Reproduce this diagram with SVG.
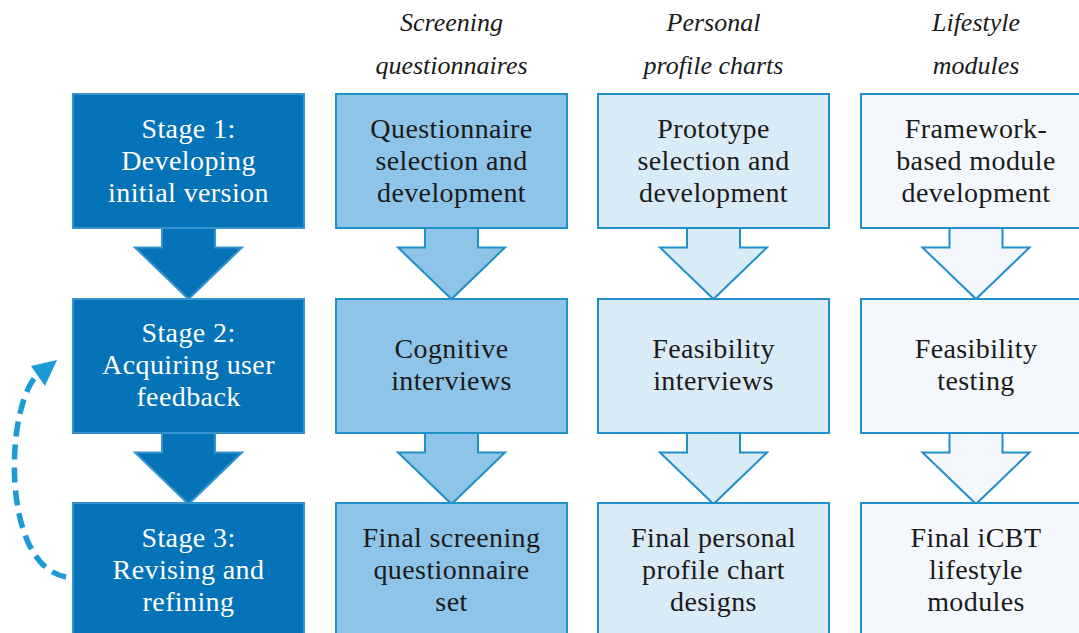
<svg xmlns="http://www.w3.org/2000/svg" width="1079" height="633" viewBox="0 0 1079 633">
<style>
.box{stroke-width:2}
.c1{fill:#0573B8;stroke:#3593D0}
.c2{fill:#8EC4E7;stroke:#2090C8}
.c3{fill:#DAEBF8;stroke:#2090C8}
.c4{fill:#F4F8FC;stroke:#2090C8}
.af{stroke:none}
.ao{fill:none;stroke-width:2;stroke-linejoin:miter}
.t{font-family:"Liberation Serif","Times New Roman",serif;font-size:28px;letter-spacing:0.4px;text-anchor:middle;fill:#1a1a1a}
.w{fill:#ffffff}
.h{font-family:"Liberation Serif","Times New Roman",serif;font-size:26px;font-style:italic;text-anchor:middle;fill:#1a1a1a}
.dash{fill:none;stroke:#1C9AD6;stroke-width:5.5;stroke-dasharray:15 8}
</style>
<defs>
<path id="arrF" d="M-26.5,-1 L26.5,-1 L26.5,19.5 L53.5,19.5 L0,71 L-53.5,19.5 L-26.5,19.5 Z"/>
<path id="arrO" d="M26.5,0 L26.5,19.5 L53.5,19.5 L0,71 L-53.5,19.5 L-26.5,19.5 L-26.5,0"/>
</defs>
<rect width="1079" height="633" fill="#ffffff"/>
<g id="headers">
<text class="h" x="451.5" y="31">Screening</text>
<text class="h" x="451.5" y="74">questionnaires</text>
<text class="h" x="713.5" y="31">Personal</text>
<text class="h" x="713.5" y="74">profile charts</text>
<text class="h" x="976" y="31">Lifestyle</text>
<text class="h" x="976" y="74">modules</text>
</g>
<g id="connectors">
<use href="#arrF" x="188.5" y="228" class="c1 af"/><use href="#arrO" x="188.5" y="228" class="c1 ao"/>
<use href="#arrF" x="188.5" y="433" class="c1 af"/><use href="#arrO" x="188.5" y="433" class="c1 ao"/>
<use href="#arrF" x="451.5" y="228" class="c2 af"/><use href="#arrO" x="451.5" y="228" class="c2 ao"/>
<use href="#arrF" x="451.5" y="433" class="c2 af"/><use href="#arrO" x="451.5" y="433" class="c2 ao"/>
<use href="#arrF" x="713.5" y="228" class="c3 af"/><use href="#arrO" x="713.5" y="228" class="c3 ao"/>
<use href="#arrF" x="713.5" y="433" class="c3 af"/><use href="#arrO" x="713.5" y="433" class="c3 ao"/>
<use href="#arrF" x="976" y="228" class="c4 af"/><use href="#arrO" x="976" y="228" class="c4 ao"/>
<use href="#arrF" x="976" y="433" class="c4 af"/><use href="#arrO" x="976" y="433" class="c4 ao"/>
<path class="dash" d="M66,577 C0,565 5,405 38,374"/>
<polygon points="57,360 31,366 45,386" fill="#1C9AD6"/>
</g>
<g id="stage1"><rect class="box c1" x="73" y="94" width="231" height="134"/>
<text class="t w" x="188.5" y="138">Stage 1:</text><text class="t w" x="188.5" y="170">Developing</text><text class="t w" x="188.5" y="202">initial version</text></g>
<g id="stage2"><rect class="box c1" x="73" y="299" width="231" height="134"/>
<text class="t w" x="188.5" y="342">Stage 2:</text><text class="t w" x="188.5" y="374">Acquiring user</text><text class="t w" x="188.5" y="406">feedback</text></g>
<g id="stage3"><rect class="box c1" x="73" y="503" width="231" height="134"/>
<text class="t w" x="188.5" y="547">Stage 3:</text><text class="t w" x="188.5" y="579">Revising and</text><text class="t w" x="188.5" y="611">refining</text></g>
<g id="sq1"><rect class="box c2" x="336" y="94" width="231" height="134"/>
<text class="t" x="451.5" y="138">Questionnaire</text><text class="t" x="451.5" y="170">selection and</text><text class="t" x="451.5" y="202">development</text></g>
<g id="sq2"><rect class="box c2" x="336" y="299" width="231" height="134"/>
<text class="t" x="451.5" y="358">Cognitive</text><text class="t" x="451.5" y="390">interviews</text></g>
<g id="sq3"><rect class="box c2" x="336" y="503" width="231" height="134"/>
<text class="t" x="451.5" y="547">Final screening</text><text class="t" x="451.5" y="579">questionnaire</text><text class="t" x="451.5" y="611">set</text></g>
<g id="pp1"><rect class="box c3" x="598" y="94" width="231" height="134"/>
<text class="t" x="713.5" y="138">Prototype</text><text class="t" x="713.5" y="170">selection and</text><text class="t" x="713.5" y="202">development</text></g>
<g id="pp2"><rect class="box c3" x="598" y="299" width="231" height="134"/>
<text class="t" x="713.5" y="358">Feasibility</text><text class="t" x="713.5" y="390">interviews</text></g>
<g id="pp3"><rect class="box c3" x="598" y="503" width="231" height="134"/>
<text class="t" x="713.5" y="547">Final personal</text><text class="t" x="713.5" y="579">profile chart</text><text class="t" x="713.5" y="611">designs</text></g>
<g id="lm1"><rect class="box c4" x="861" y="94" width="231" height="134"/>
<text class="t" x="976" y="138">Framework-</text><text class="t" x="976" y="170">based module</text><text class="t" x="976" y="202">development</text></g>
<g id="lm2"><rect class="box c4" x="861" y="299" width="231" height="134"/>
<text class="t" x="976" y="358">Feasibility</text><text class="t" x="976" y="390">testing</text></g>
<g id="lm3"><rect class="box c4" x="861" y="503" width="231" height="134"/>
<text class="t" x="976" y="547">Final iCBT</text><text class="t" x="976" y="579">lifestyle</text><text class="t" x="976" y="611">modules</text></g>
</svg>
